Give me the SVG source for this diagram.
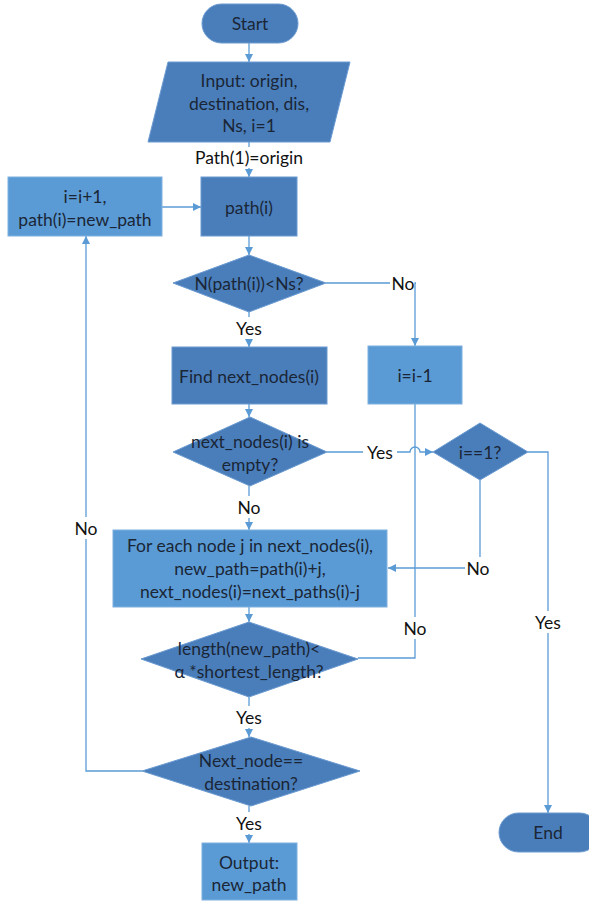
<svg xmlns="http://www.w3.org/2000/svg" width="589" height="902" viewBox="0 0 589 902">
<defs>
<marker id="arr" viewBox="0 0 10 10" refX="10" refY="5" markerWidth="8" markerHeight="8" markerUnits="userSpaceOnUse" orient="auto">
<path d="M0,0 L10,5 L0,10 z" fill="#5b9bd5"/>
</marker>
</defs>
<style>
.dark{fill:#4a7ebb;stroke:#6a9ad0;stroke-width:1}
.light{fill:#5b9bd5;stroke:#7eb0de;stroke-width:1}
text{font-family:Lato,"Open Sans","Liberation Sans",sans-serif;font-size:17.5px;fill:#1a2636;text-anchor:middle;dominant-baseline:central}
.c{fill:none;stroke:#5b9bd5;stroke-width:1.3}
.lbl{fill:#111}
</style>
<rect width="589" height="902" fill="#ffffff"/>
<g id="connectors">
<path class="c" d="M249,43 L249,62" marker-end="url(#arr)"/>
<path class="c" d="M249,142 L249,147 M249,168 L249,177" marker-end="url(#arr)"/>
<path class="c" d="M162,207 L201,207" marker-end="url(#arr)"/>
<path class="c" d="M249,236 L249,255" marker-end="url(#arr)"/>
<path class="c" d="M249,312 L249,317 M249,339 L249,347" marker-end="url(#arr)"/>
<path class="c" d="M326,283 L390,283 M416,283 L415,283 L415,346" marker-end="url(#arr)"/>
<path class="c" d="M249,404 L249,417" marker-end="url(#arr)"/>
<path class="c" d="M327,452 L363,452 M397,452 L410,452 A5,5 0 0 1 420,452 L433,452" marker-end="url(#arr)"/>
<path class="c" d="M415,404 L415,617 M415,639 L415,658 L358,658"/>
<path class="c" d="M528,452 L548,452 L548,611 M548,633 L548,813" marker-end="url(#arr)"/>
<path class="c" d="M480,480 L480,557 M465,568 L388,568" marker-end="url(#arr)"/>
<path class="c" d="M249,486 L249,496 M249,518 L249,530" marker-end="url(#arr)"/>
<path class="c" d="M249,607 L249,622" marker-end="url(#arr)"/>
<path class="c" d="M249,697 L249,706 M249,728 L249,737" marker-end="url(#arr)"/>
<path class="c" d="M142,771 L86,771 L86,539 M86,517 L86,236" marker-end="url(#arr)"/>
<path class="c" d="M249,806 L249,812 M249,834 L249,843" marker-end="url(#arr)"/>
<text class="lbl" x="249" y="157">Path(1)=origin</text>
<text class="lbl" x="249" y="328">Yes</text>
<text class="lbl" x="403" y="283">No</text>
<text class="lbl" x="380" y="452">Yes</text>
<text class="lbl" x="249" y="507">No</text>
<text class="lbl" x="478" y="568">No</text>
<text class="lbl" x="415" y="628">No</text>
<text class="lbl" x="548" y="622">Yes</text>
<text class="lbl" x="249" y="717">Yes</text>
<text class="lbl" x="86" y="528">No</text>
<text class="lbl" x="249" y="823">Yes</text>
</g>
<g id="start"><rect class="dark" x="202" y="4" width="96" height="39" rx="19.5"/><text x="250" y="23">Start</text></g>
<g id="input"><polygon class="dark" points="168,62 350,62 330,142 148,142"/><text x="249" y="80">Input: origin,</text><text x="249" y="103">destination, dis,</text><text x="249" y="125">Ns, i=1</text></g>
<g id="path_i"><rect class="dark" x="201" y="177" width="96" height="59"/><text x="249" y="207">path(i)</text></g>
<g id="inc"><rect class="light" x="8" y="177" width="154" height="59"/><text x="85" y="196">i=i+1,</text><text x="85" y="219">path(i)=new_path</text></g>
<g id="check_ns"><polygon class="dark" points="249,255 326,283 249,312 173,283"/><text x="249" y="283">N(path(i))&lt;Ns?</text></g>
<g id="find"><rect class="dark" x="172" y="347" width="155" height="57"/><text x="249" y="376">Find next_nodes(i)</text></g>
<g id="dec"><rect class="light" x="368" y="346" width="94" height="58"/><text x="415" y="375">i=i-1</text></g>
<g id="empty"><polygon class="dark" points="250,417 327,452 250,486 173,452"/><text x="250" y="441">next_nodes(i) is</text><text x="250" y="464">empty?</text></g>
<g id="i_one"><polygon class="dark" points="480,423 528,452 480,480 433,452"/><text x="480" y="452">i==1?</text></g>
<g id="foreach"><rect class="light" x="113" y="530" width="274" height="77"/><text x="250" y="545">For each node j in next_nodes(i),</text><text x="250" y="568">new_path=path(i)+j,</text><text x="250" y="591">next_nodes(i)=next_paths(i)-j</text></g>
<g id="length"><polygon class="dark" points="249,622 358,659 249,697 141,659"/><text x="249" y="648">length(new_path)&lt;</text><text x="249" y="671">α *shortest_length?</text></g>
<g id="dest"><polygon class="dark" points="251,737 360,771 251,806 142,771"/><text x="251" y="760">Next_node==</text><text x="251" y="783">destination?</text></g>
<g id="output"><rect class="light" x="202" y="843" width="95" height="57"/><text x="249" y="862">Output:</text><text x="249" y="884">new_path</text></g>
<g id="end"><rect class="dark" x="499" y="813" width="100" height="39" rx="19.5"/><text x="548" y="832">End</text></g>
</svg>
